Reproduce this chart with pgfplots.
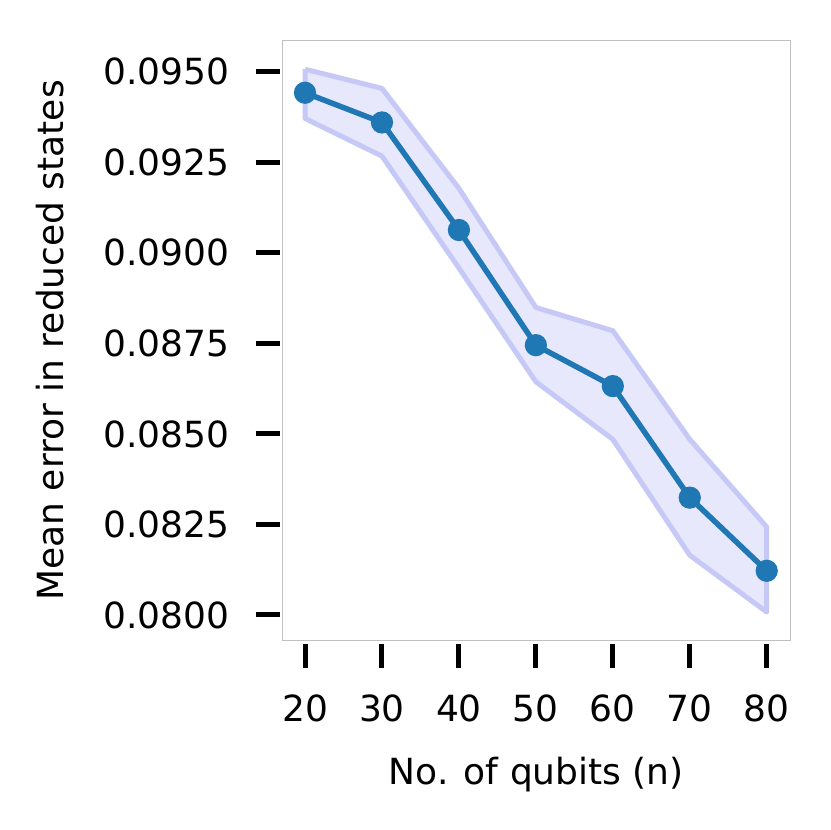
\documentclass[border=0pt]{standalone}
\usepackage{fontspec}
\setmainfont{DejaVu Sans}
\usepackage{pgfplots}
\pgfplotsset{compat=1.18}
\definecolor{mplblue}{RGB}{31,119,180}
\definecolor{bandfill}{RGB}{232,232,252}
\definecolor{bandedge}{RGB}{198,200,246}
\definecolor{framegray}{RGB}{192,192,192}
\begin{document}
\begin{tikzpicture}
\useasboundingbox (0,0) rectangle (249pt,249pt);
\begin{axis}[
  at={(84.81pt,56.79pt)}, anchor=south west,
  width=152.2pt, height=180.2pt, scale only axis,
  xmin=17.10, xmax=83.03,
  ymin=0.07929, ymax=0.095876,
  xtick={20,30,40,50,60,70,80},
  ytick={0.0800,0.0825,0.0850,0.0875,0.0900,0.0925,0.0950},
  scaled y ticks=false,
  yticklabel style={xshift=-5.2pt, /pgf/number format/.cd, fixed, fixed zerofill, precision=4},
  /pgf/number format/assume math mode=true,
  tick label style={font=\fontsize{10.8}{13}\selectfont},
  label style={font=\fontsize{10.8}{13}\selectfont},
  xticklabel style={yshift=-5.4pt},
  xtick pos=bottom, ytick pos=left,
  tick align=outside,
  major tick length=7.2pt,
  xtick style={black, line width=1.5pt, yshift=-0.9pt},
  ytick style={black, line width=1.5pt, xshift=-0.9pt},
  axis line style={framegray, line width=0.3pt},
  xlabel={No. of qubits (n)},
  ylabel={Mean error in reduced states},
  xlabel style={at={(axis description cs:0.5,-0.2236)}, anchor=center},
  ylabel style={at={(axis description cs:-0.4578,0.5)}, anchor=center},
  clip=false,
]
% error band: upper edge, then lower edge reversed
\addplot[fill=bandfill, draw=bandedge, line width=1.5pt, line join=round] coordinates {
  (20,0.09507) (30,0.09454) (40,0.09178) (50,0.08849) (60,0.08785) (70,0.08485) (80,0.08243)
  (80,0.08008) (70,0.08165) (60,0.08485) (50,0.08644) (40,0.08958) (30,0.09267) (20,0.09371)
  (20,0.09507)
};
% mean error
\addplot[mplblue, line width=1.65pt, mark=*, mark size=2.5pt, mark options={solid, fill=mplblue, draw=mplblue}] coordinates {
  (20,0.09442) (30,0.09360) (40,0.09063) (50,0.08745) (60,0.08632) (70,0.08324) (80,0.08122)
};
\end{axis}
\end{tikzpicture}
\end{document}
